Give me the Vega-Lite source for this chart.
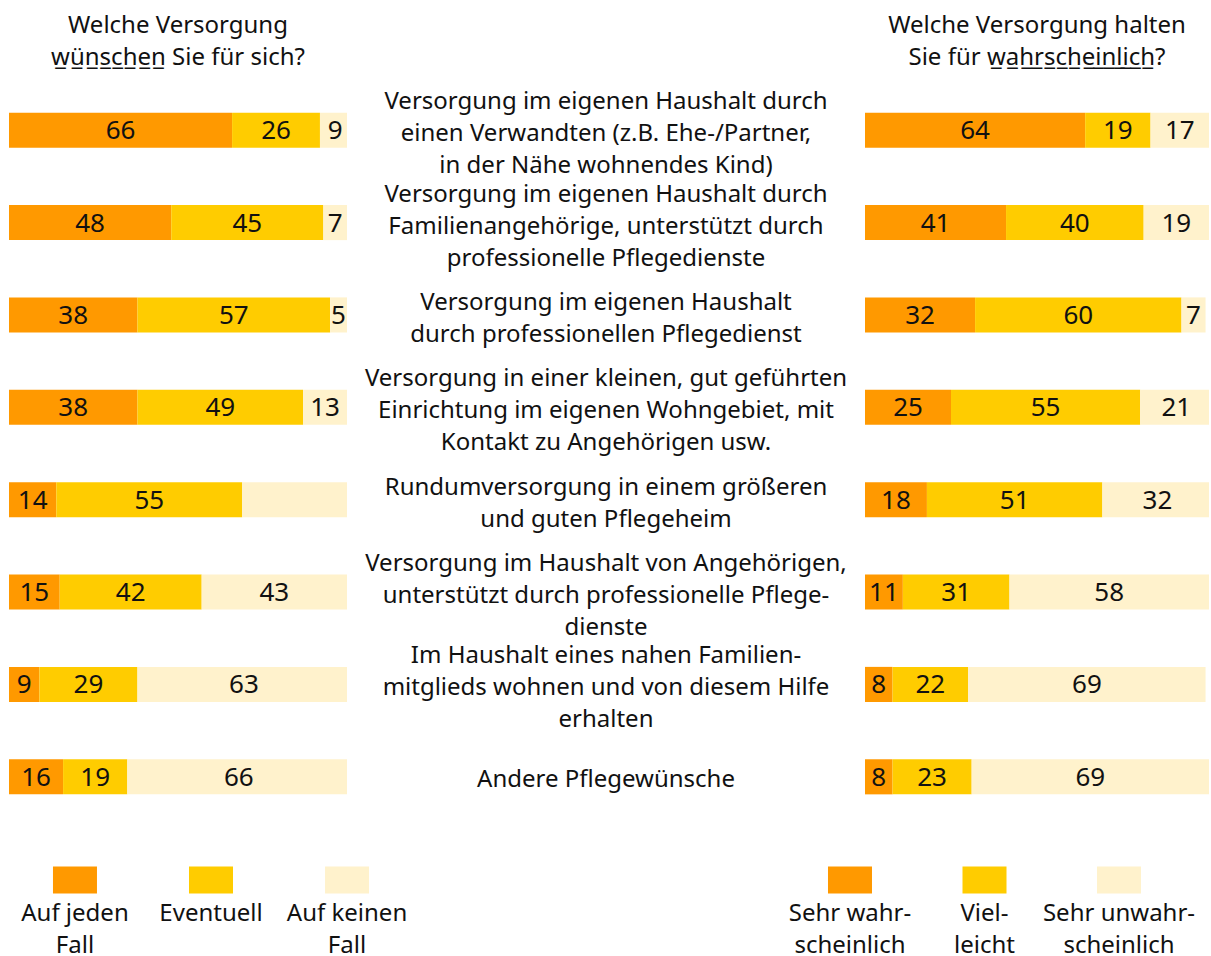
{
  "$schema": "https://vega.github.io/schema/vega-lite/v6.json",
  "background": "white",
  "padding": {"left": 9, "top": 14, "right": 0, "bottom": 0},
  "config": {
    "view": {"stroke": null},
    "font": "Noto Sans",
    "title": {"font": "Noto Sans", "fontSize": 24, "fontWeight": "normal", "color": "#111111", "lineHeight": 32}
  },
  "datasets": {
    "wish": [
      {"nr": 1, "cat": "Auf jeden Fall", "value": 66, "label": "66"},
      {"nr": 1, "cat": "Eventuell", "value": 26, "label": "26"},
      {"nr": 1, "cat": "Auf keinen Fall", "value": 9, "label": "9"},
      {"nr": 2, "cat": "Auf jeden Fall", "value": 48, "label": "48"},
      {"nr": 2, "cat": "Eventuell", "value": 45, "label": "45"},
      {"nr": 2, "cat": "Auf keinen Fall", "value": 7, "label": "7"},
      {"nr": 3, "cat": "Auf jeden Fall", "value": 38, "label": "38"},
      {"nr": 3, "cat": "Eventuell", "value": 57, "label": "57"},
      {"nr": 3, "cat": "Auf keinen Fall", "value": 5, "label": "5"},
      {"nr": 4, "cat": "Auf jeden Fall", "value": 38, "label": "38"},
      {"nr": 4, "cat": "Eventuell", "value": 49, "label": "49"},
      {"nr": 4, "cat": "Auf keinen Fall", "value": 13, "label": "13"},
      {"nr": 5, "cat": "Auf jeden Fall", "value": 14, "label": "14"},
      {"nr": 5, "cat": "Eventuell", "value": 55, "label": "55"},
      {"nr": 5, "cat": "Auf keinen Fall", "value": 31, "label": ""},
      {"nr": 6, "cat": "Auf jeden Fall", "value": 15, "label": "15"},
      {"nr": 6, "cat": "Eventuell", "value": 42, "label": "42"},
      {"nr": 6, "cat": "Auf keinen Fall", "value": 43, "label": "43"},
      {"nr": 7, "cat": "Auf jeden Fall", "value": 9, "label": "9"},
      {"nr": 7, "cat": "Eventuell", "value": 29, "label": "29"},
      {"nr": 7, "cat": "Auf keinen Fall", "value": 63, "label": "63"},
      {"nr": 8, "cat": "Auf jeden Fall", "value": 16, "label": "16"},
      {"nr": 8, "cat": "Eventuell", "value": 19, "label": "19"},
      {"nr": 8, "cat": "Auf keinen Fall", "value": 66, "label": "66"}
    ],
    "likely": [
      {"nr": 1, "cat": "Sehr wahrscheinlich", "value": 64, "label": "64"},
      {"nr": 1, "cat": "Vielleicht", "value": 19, "label": "19"},
      {"nr": 1, "cat": "Sehr unwahrscheinlich", "value": 17, "label": "17"},
      {"nr": 2, "cat": "Sehr wahrscheinlich", "value": 41, "label": "41"},
      {"nr": 2, "cat": "Vielleicht", "value": 40, "label": "40"},
      {"nr": 2, "cat": "Sehr unwahrscheinlich", "value": 19, "label": "19"},
      {"nr": 3, "cat": "Sehr wahrscheinlich", "value": 32, "label": "32"},
      {"nr": 3, "cat": "Vielleicht", "value": 60, "label": "60"},
      {"nr": 3, "cat": "Sehr unwahrscheinlich", "value": 7, "label": "7"},
      {"nr": 4, "cat": "Sehr wahrscheinlich", "value": 25, "label": "25"},
      {"nr": 4, "cat": "Vielleicht", "value": 55, "label": "55"},
      {"nr": 4, "cat": "Sehr unwahrscheinlich", "value": 21, "label": "21"},
      {"nr": 5, "cat": "Sehr wahrscheinlich", "value": 18, "label": "18"},
      {"nr": 5, "cat": "Vielleicht", "value": 51, "label": "51"},
      {"nr": 5, "cat": "Sehr unwahrscheinlich", "value": 32, "label": "32"},
      {"nr": 6, "cat": "Sehr wahrscheinlich", "value": 11, "label": "11"},
      {"nr": 6, "cat": "Vielleicht", "value": 31, "label": "31"},
      {"nr": 6, "cat": "Sehr unwahrscheinlich", "value": 58, "label": "58"},
      {"nr": 7, "cat": "Sehr wahrscheinlich", "value": 8, "label": "8"},
      {"nr": 7, "cat": "Vielleicht", "value": 22, "label": "22"},
      {"nr": 7, "cat": "Sehr unwahrscheinlich", "value": 69, "label": "69"},
      {"nr": 8, "cat": "Sehr wahrscheinlich", "value": 8, "label": "8"},
      {"nr": 8, "cat": "Vielleicht", "value": 23, "label": "23"},
      {"nr": 8, "cat": "Sehr unwahrscheinlich", "value": 69, "label": "69"}
    ],
    "items": [
      {"nr": 1, "label": "Versorgung im eigenen Haushalt durch\neinen Verwandten (z.B. Ehe-/Partner,\nin der Nähe wohnendes Kind)"},
      {"nr": 2, "label": "Versorgung im eigenen Haushalt durch\nFamilienangehörige, unterstützt durch\nprofessionelle Pflegedienste"},
      {"nr": 3, "label": "Versorgung im eigenen Haushalt\ndurch professionellen Pflegedienst"},
      {"nr": 4, "label": "Versorgung in einer kleinen, gut geführten\nEinrichtung im eigenen Wohngebiet, mit\nKontakt zu Angehörigen usw."},
      {"nr": 5, "label": "Rundumversorgung in einem größeren\nund guten Pflegeheim"},
      {"nr": 6, "label": "Versorgung im Haushalt von Angehörigen,\nunterstützt durch professionelle Pflege-\ndienste"},
      {"nr": 7, "label": "Im Haushalt eines nahen Familien-\nmitglieds wohnen und von diesem Hilfe\nerhalten"},
      {"nr": 8, "label": "Andere Pflegewünsche"}
    ],
    "wishLegend": [
      {"cat": "Auf jeden Fall", "label": "Auf jeden\nFall"},
      {"cat": "Eventuell", "label": "Eventuell"},
      {"cat": "Auf keinen Fall", "label": "Auf keinen\nFall"}
    ],
    "likelyLegend": [
      {"cat": "Sehr wahrscheinlich", "label": "Sehr wahr-\nscheinlich"},
      {"cat": "Vielleicht", "label": "Viel-\nleicht"},
      {"cat": "Sehr unwahrscheinlich", "label": "Sehr unwahr-\nscheinlich"}
    ]
  },
  "vconcat": [
    {
      "hconcat": [
        {
          "width": 338,
          "height": 739,
          "title": {"text": ["Welche Versorgung", "w\u0332\u00fc\u0332n\u0332s\u0332c\u0332h\u0332e\u0332n\u0332 Sie für sich?"], "anchor": "middle", "offset": 14},
          "data": {"name": "wish"},
          "transform": [
            {"stack": "value", "groupby": ["nr"], "as": ["x0", "x1"], "offset": "zero"},
            {"calculate": "(datum.x0 + datum.x1) / 2", "as": "xm"}
          ],
          "encoding": {
            "y": {"field": "nr", "type": "ordinal", "axis": null, "scale": {"paddingInner": 0.62, "paddingOuter": 0.31}}
          },
          "layer": [
            {
              "mark": {"type": "bar", "clip": true},
              "encoding": {
                "x": {"field": "x0", "type": "quantitative", "axis": null, "scale": {"domain": [0, 100], "nice": false}},
                "x2": {"field": "x1"},
                "color": {"field": "cat", "type": "nominal", "legend": null, "scale": {"domain": ["Auf jeden Fall", "Eventuell", "Auf keinen Fall"], "range": ["#FF9900", "#FFCC00", "#FFF2CC"]}}
              }
            },
            {
              "mark": {"type": "text", "fontSize": 26, "dy": 1, "color": "#111111"},
              "encoding": {
                "x": {"field": "xm", "type": "quantitative"},
                "text": {"field": "label", "type": "nominal"}
              }
            }
          ]
        },
        {
          "width": 518,
          "height": 739,
          "data": {"name": "items"},
          "transform": [{"calculate": "length(split(datum.label, '\\n'))", "as": "lines"}],
          "encoding": {
            "y": {"field": "nr", "type": "ordinal", "axis": null, "scale": {"paddingInner": 0.62, "paddingOuter": 0.31}},
            "text": {"field": "label", "type": "nominal"}
          },
          "layer": [
            {
              "transform": [{"filter": "datum.lines == 1"}],
              "mark": {"type": "text", "fontSize": 24, "lineBreak": "\n", "lineHeight": 32, "baseline": "middle", "dy": 3, "color": "#111111"}
            },
            {
              "transform": [{"filter": "datum.lines == 2"}],
              "mark": {"type": "text", "fontSize": 24, "lineBreak": "\n", "lineHeight": 32, "baseline": "middle", "dy": -12, "color": "#111111"}
            },
            {
              "transform": [{"filter": "datum.lines == 3"}],
              "mark": {"type": "text", "fontSize": 24, "lineBreak": "\n", "lineHeight": 32, "baseline": "middle", "dy": -28, "color": "#111111"}
            }
          ]
        },
        {
          "width": 344,
          "height": 739,
          "title": {"text": ["Welche Versorgung halten", "Sie für w\u0332a\u0332h\u0332r\u0332s\u0332c\u0332h\u0332e\u0332i\u0332n\u0332l\u0332i\u0332c\u0332h\u0332?"], "anchor": "middle", "offset": 14},
          "data": {"name": "likely"},
          "transform": [
            {"stack": "value", "groupby": ["nr"], "as": ["x0", "x1"], "offset": "zero"},
            {"calculate": "(datum.x0 + datum.x1) / 2", "as": "xm"}
          ],
          "encoding": {
            "y": {"field": "nr", "type": "ordinal", "axis": null, "scale": {"paddingInner": 0.62, "paddingOuter": 0.31}}
          },
          "layer": [
            {
              "mark": {"type": "bar", "clip": true},
              "encoding": {
                "x": {"field": "x0", "type": "quantitative", "axis": null, "scale": {"domain": [0, 100], "nice": false}},
                "x2": {"field": "x1"},
                "color": {"field": "cat", "type": "nominal", "legend": null, "scale": {"domain": ["Sehr wahrscheinlich", "Vielleicht", "Sehr unwahrscheinlich"], "range": ["#FF9900", "#FFCC00", "#FFF2CC"]}}
              }
            },
            {
              "mark": {"type": "text", "fontSize": 26, "dy": 1, "color": "#111111"},
              "encoding": {
                "x": {"field": "xm", "type": "quantitative"},
                "text": {"field": "label", "type": "nominal"}
              }
            }
          ]
        }
      ],
      "spacing": 0,
      "resolve": {"scale": {"x": "independent", "color": "independent"}}
    },
    {
      "hconcat": [
        {
          "width": 404,
          "height": 100,
          "data": {"name": "wishLegend"},
          "encoding": {
            "x": {"field": "cat", "type": "nominal", "sort": null, "axis": null, "scale": {"type": "point", "padding": 0.485}}
          },
          "layer": [
            {
              "mark": {"type": "point", "filled": true, "opacity": 1, "shape": "M-1,-0.614H1V0.614H-1Z", "size": 1936},
              "encoding": {
                "color": {"field": "cat", "type": "nominal", "legend": null, "scale": {"domain": ["Auf jeden Fall", "Eventuell", "Auf keinen Fall"], "range": ["#FF9900", "#FFCC00", "#FFF2CC"]}}
              }
            },
            {
              "mark": {"type": "text", "baseline": "top", "dy": 22, "fontSize": 24, "lineBreak": "\n", "lineHeight": 32, "color": "#111111"},
              "encoding": {"text": {"field": "label", "type": "nominal"}}
            }
          ]
        },
        {
          "width": 449,
          "height": 100,
          "data": {"name": "likelyLegend"},
          "encoding": {
            "x": {"field": "cat", "type": "nominal", "sort": null, "axis": null, "scale": {"type": "point", "padding": 0.669}}
          },
          "layer": [
            {
              "mark": {"type": "point", "filled": true, "opacity": 1, "shape": "M-1,-0.614H1V0.614H-1Z", "size": 1936},
              "encoding": {
                "color": {"field": "cat", "type": "nominal", "legend": null, "scale": {"domain": ["Sehr wahrscheinlich", "Vielleicht", "Sehr unwahrscheinlich"], "range": ["#FF9900", "#FFCC00", "#FFF2CC"]}}
              }
            },
            {
              "mark": {"type": "text", "baseline": "top", "dy": 22, "fontSize": 24, "lineBreak": "\n", "lineHeight": 32, "color": "#111111"},
              "encoding": {"text": {"field": "label", "type": "nominal"}}
            }
          ]
        }
      ],
      "spacing": 347,
      "resolve": {"scale": {"x": "independent", "color": "independent"}}
    }
  ],
  "spacing": 7,
  "resolve": {"scale": {"color": "independent"}}
}
